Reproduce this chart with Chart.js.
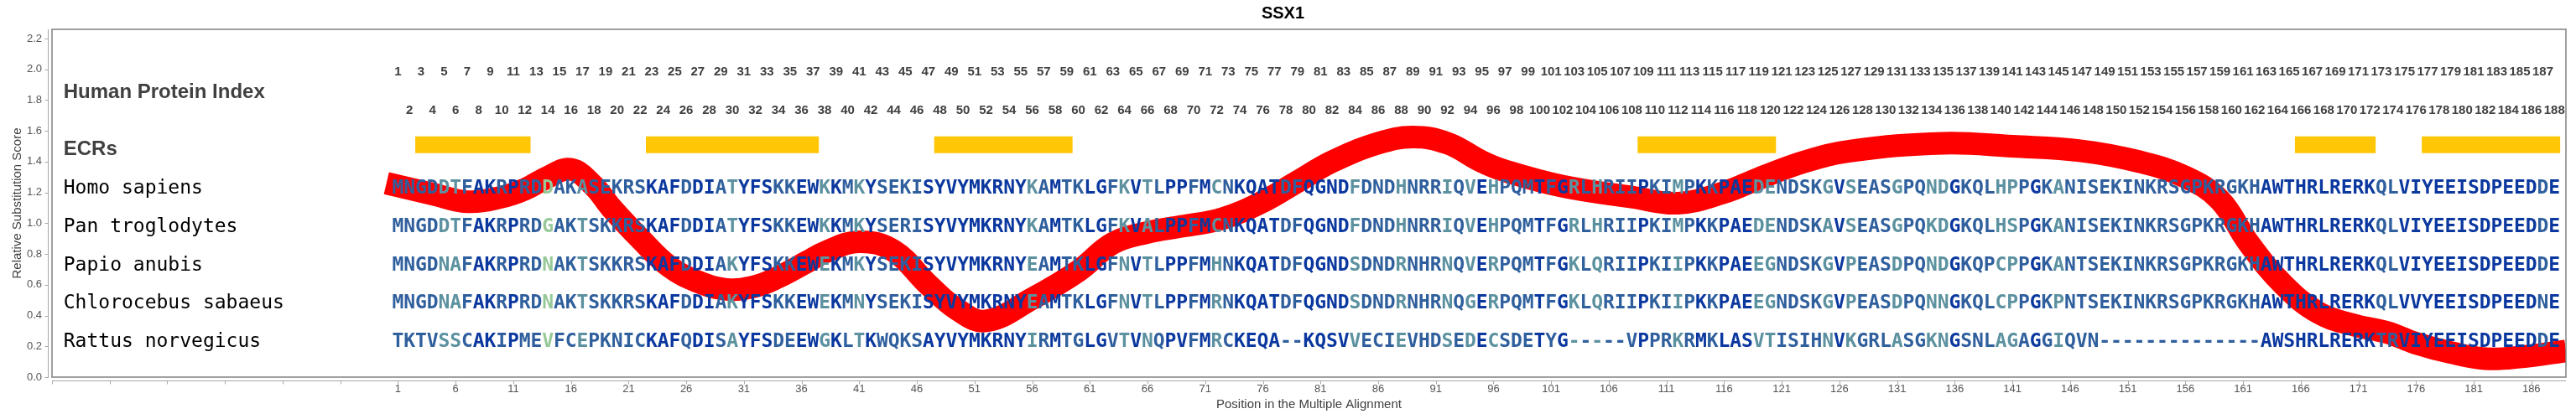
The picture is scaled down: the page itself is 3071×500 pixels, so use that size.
<!DOCTYPE html>
<html>
<head>
<meta charset="utf-8">
<title>SSX1</title>
<script src="https://cdn.jsdelivr.net/npm/chart.js@4.4.1/dist/chart.umd.min.js"></script>
<style>
  html, body { margin: 0; padding: 0; background: #fff; }
  #chart { display: block; }
</style>
</head>
<body>
<canvas id="chart" width="3071" height="500"></canvas>
<script>
// alignment rows
const species = ['Homo sapiens', 'Pan troglodytes', 'Papio anubis', 'Chlorocebus sabaeus', 'Rattus norvegicus'];
const sequences = [
  'MNGDDTFAKRPRDDAKASEKRSKAFDDIATYFSKKEWKKMKYSEKISYVYMKRNYKAMTKLGFKVTLPPFMCNKQATDFQGNDFDNDHNRRIQVEHPQMTFGRLHRIIPKIMPKKPAEDENDSKGVSEASGPQNDGKQLHPPGKANISEKINKRSGPKRGKHAWTHRLRERKQLVIYEEISDPEEDDE',
  'MNGDDTFAKRPRDGAKTSKKRSKAFDDIATYFSKKEWKKMKYSERISYVYMKRNYKAMTKLGFKVALPPFMCNKQATDFQGNDFDNDHNRRIQVEHPQMTFGRLHRIIPKIMPKKPAEDENDSKAVSEASGPQKDGKQLHSPGKANISEKINKRSGPKRGKHAWTHRLRERKQLVIYEEISDPEEDDE',
  'MNGDNAFAKRPRDNAKTSKKRSKAFDDIAKYFSKKEWEKMKYSEKISYVYMKRNYEAMTKLGFNVTLPPFMHNKQATDFQGNDSDNDRNHRNQVERPQMTFGKLQRIIPKIIPKKPAEEGNDSKGVPEASDPQNDGKQPCPPGKANTSEKINKRSGPKRGKHAWTHRLRERKQLVIYEEISDPEEDDE',
  'MNGDNAFAKRPRDNAKTSKKRSKAFDDIAKYFSKKEWEKMNYSEKISYVYMKRNYEAMTKLGFNVTLPPFMRNKQATDFQGNDSDNDRNHRNQGERPQMTFGKLQRIIPKIIPKKPAEEGNDSKGVPEASDPQNNGKQLCPPGKPNTSEKINKRSGPKRGKHAWTHRLRERKQLVVYEEISDPEEDNE',
  'TKTVSSCAKIPMEVFCEPKNICKAFQDISAYFSDEEWGKLTKWQKSAYVYMKRNYIRMTGLGVTVNQPVFMRCKEQA--KQSVVECIEVHDSEDECSDETYG-----VPPRKRMKLASVTISIHNVKGRLASGKNGSNLAGAGGIQVN--------------AWSHRLRERKTRVIYEEISDPEEDDE'
];
const speciesRows = [1.24, 0.99, 0.74, 0.49, 0.24];

// conservation class per alignment column (d = dark, m = medium, t = teal, g = green)
const columnClass =
  'mmmmttmddm' + 'dmmgmmtmmm' + 'mmdddmddmt' + 'dddmmddtdm' + 'tdmmmmdddd' +
  'dddddtmdmm' + 'ddmtdtmddm' + 'dtmddddmmd' + 'dddtmmmtmm' + 'mtmtdtmmmd' +
  'mdtmtmmmdm' + 'mtmdmdddtt' + 'mmmmtdtmmm' + 'tmmttdmmmt' + 'tmdmtmmmmm' +
  'mmmmmmmmmm' + 'mmdddddddd' + 'ddmmdddddd' + 'ddddddmd';
const classColors = { d: '#0b389f', m: '#2f5f9d', t: '#5c91a0', g: '#97c998' };

// evolutionarily conserved regions (residue ranges)
const ecrStart = [3, 23, 48, 109, 166, 177];
const ecrEnd = [12, 37, 59, 120, 172, 188];
const ecrLevel = 1.51;

// relative substitution score curve
const scorePositions = [0, 4, 7, 10, 12, 14, 16, 18, 19.5, 22, 24.5, 27, 29.5, 32, 34, 36.5, 38, 41, 44, 47, 49.5, 52, 56, 60, 63, 66, 69, 72.5, 76, 79, 82, 86, 89, 92, 95, 97, 102, 108, 112, 116, 119, 123, 127, 135, 141, 147, 152, 156, 159, 161.5, 164.5, 167.5, 170.5, 173.5, 176, 179, 182, 185, 189];
const scoreValues = [1.26, 1.19, 1.14, 1.17, 1.22, 1.30, 1.35, 1.24, 1.10, 0.90, 0.72, 0.62, 0.57, 0.59, 0.65, 0.75, 0.81, 0.88, 0.82, 0.60, 0.44, 0.365, 0.51, 0.69, 0.87, 0.94, 0.98, 1.03, 1.14, 1.27, 1.40, 1.52, 1.56, 1.52, 1.40, 1.34, 1.24, 1.17, 1.13, 1.20, 1.29, 1.40, 1.47, 1.52, 1.50, 1.47, 1.40, 1.30, 1.15, 0.87, 0.60, 0.42, 0.34, 0.29, 0.22, 0.16, 0.12, 0.13, 0.17];

const xTickValues = [-29, -24, -19, -14, -9, -4, 1, 6, 11, 16, 21, 26, 31, 36, 41, 46, 51, 56, 61, 66, 71, 76, 81, 86, 91, 96, 101, 106, 111, 116, 121, 126, 131, 136, 141, 146, 151, 156, 161, 166, 171, 176, 181, 186];
const yTickValues = [0, 0.2, 0.4, 0.6, 0.8, 1.0, 1.2, 1.4, 1.6, 1.8, 2.0, 2.2];

const labelColumn = -28;
const humanIndexRow = 1.86;
const ecrLabelRow = 1.49;
const oddIndexRow = 1.99;
const evenIndexRow = 1.74;

const ecrPoints = [];
ecrStart.forEach((s, i) => {
  ecrPoints.push({ x: s - 0.5, y: ecrLevel });
  ecrPoints.push({ x: ecrEnd[i] + 0.5, y: ecrLevel });
  ecrPoints.push({ x: ecrEnd[i] + 0.5, y: null });
});
const scorePoints = scorePositions.map((p, i) => ({ x: p, y: scoreValues[i] }));

const sans = '"Liberation Sans", Arial, sans-serif';
const mono = '"DejaVu Sans Mono", monospace';

// frame and offset axis lines
const frame = {
  id: 'frame',
  afterDraw(chart) {
    const { ctx, chartArea: a, scales: { x, y } } = chart;
    ctx.save();
    ctx.strokeStyle = '#808080';
    ctx.lineWidth = 1.5;
    ctx.strokeRect(a.left, a.top, a.right - a.left, a.bottom - a.top);

    ctx.strokeStyle = '#a8a8a8';
    ctx.lineWidth = 1;
    const ax = a.left - 4.5;
    ctx.beginPath();
    ctx.moveTo(ax, a.top);
    ctx.lineTo(ax, a.bottom + 1);
    y.ticks.forEach(t => {
      const py = Math.round(y.getPixelForValue(t.value)) + 0.5;
      ctx.moveTo(ax - 4, py);
      ctx.lineTo(ax, py);
    });
    const ay = a.bottom + 4.5;
    ctx.moveTo(a.left, ay);
    ctx.lineTo(a.right, ay);
    x.ticks.forEach(t => {
      const px = Math.round(x.getPixelForValue(t.value)) + 0.5;
      ctx.moveTo(px, ay);
      ctx.lineTo(px, ay + 4);
    });
    ctx.stroke();
    ctx.restore();
  }
};

// labels, protein index and aligned residues
const alignmentText = {
  id: 'alignmentText',
  afterDatasetsDraw(chart) {
    const { ctx, scales: { x, y } } = chart;
    ctx.save();
    ctx.textBaseline = 'alphabetic';

    const lx = x.getPixelForValue(labelColumn);
    ctx.textAlign = 'left';
    ctx.fillStyle = '#404040';
    ctx.font = 'bold 24px ' + sans;
    ctx.fillText('Human Protein Index', lx, y.getPixelForValue(humanIndexRow) + 8.6);
    ctx.fillText('ECRs', lx, y.getPixelForValue(ecrLabelRow) + 8.6);

    ctx.fillStyle = '#000';
    ctx.font = '23px ' + mono;
    species.forEach((name, i) => {
      ctx.fillText(name, lx, y.getPixelForValue(speciesRows[i]) + 8.4);
    });

    // human protein index numbers
    ctx.textAlign = 'center';
    ctx.fillStyle = '#404040';
    ctx.font = 'bold 15px ' + sans;
    let idx = 0;
    for (let c = 0; c < sequences[0].length; c++) {
      if (sequences[0][c] === '-') continue;
      idx++;
      const row = idx % 2 ? oddIndexRow : evenIndexRow;
      ctx.fillText(String(idx), x.getPixelForValue(c + 1), y.getPixelForValue(row) + 5.4);
    }

    ctx.font = 'bold 23px ' + mono;
    sequences.forEach((seq, r) => {
      const py = y.getPixelForValue(speciesRows[r]) + 8.4;
      for (let c = 0; c < seq.length; c++) {
        ctx.fillStyle = classColors[columnClass[c]] || classColors.m;
        ctx.fillText(seq[c], x.getPixelForValue(c + 1), py);
      }
    });
    ctx.restore();
  }
};

Chart.defaults.font.family = sans;

new Chart(document.getElementById('chart').getContext('2d'), {
  type: 'line',
  data: {
    datasets: [
      {
        label: 'Relative Substitution Score',
        data: scorePoints,
        borderColor: '#ff0000',
        borderWidth: 27,
        borderCapStyle: 'butt',
        tension: 0.4,
        pointRadius: 0,
        fill: false
      },
      {
        label: 'ECRs',
        data: ecrPoints,
        borderColor: '#ffc605',
        borderWidth: 20,
        borderCapStyle: 'butt',
        tension: 0,
        spanGaps: false,
        pointRadius: 0,
        fill: false
      }
    ]
  },
  options: {
    responsive: false,
    devicePixelRatio: 1,
    animation: false,
    layout: { padding: { left: 0, right: 12, top: 0, bottom: 0 } },
    plugins: {
      legend: { display: false },
      tooltip: { enabled: false },
      title: {
        display: true,
        text: 'SSX1',
        color: '#000',
        font: { size: 20, weight: 'bold', family: sans },
        padding: { top: 4, bottom: 7 }
      }
    },
    scales: {
      x: {
        type: 'linear',
        min: -29,
        max: 189,
        afterFit: s => { s.height = 50; },
        afterBuildTicks: s => { s.ticks = xTickValues.map(v => ({ value: v })); },
        grid: { display: false, drawTicks: true, tickLength: 4 },
        border: { display: false },
        ticks: {
          padding: 3,
          autoSkip: false,
          maxRotation: 0,
          color: '#555',
          font: { size: 13 },
          callback: v => (v >= 1 ? String(v) : '')
        },
        title: {
          display: true,
          text: 'Position in the Multiple Alignment',
          color: '#404040',
          font: { size: 15 },
          padding: { top: 0, bottom: 8.6 }
        }
      },
      y: {
        type: 'linear',
        min: 0,
        max: 2.26,
        afterFit: s => { s.width = 62; },
        afterBuildTicks: s => { s.ticks = yTickValues.map(v => ({ value: v })); },
        grid: { display: false, drawTicks: true, tickLength: 8 },
        border: { display: false },
        ticks: {
          padding: 4,
          color: '#555',
          font: { size: 13 },
          callback: v => v.toFixed(1)
        },
        title: {
          display: true,
          text: 'Relative Substitution Score',
          color: '#404040',
          font: { size: 15 },
          padding: { top: 11.6, bottom: 0 }
        }
      }
    }
  },
  plugins: [frame, alignmentText]
});
</script>
</body>
</html>
